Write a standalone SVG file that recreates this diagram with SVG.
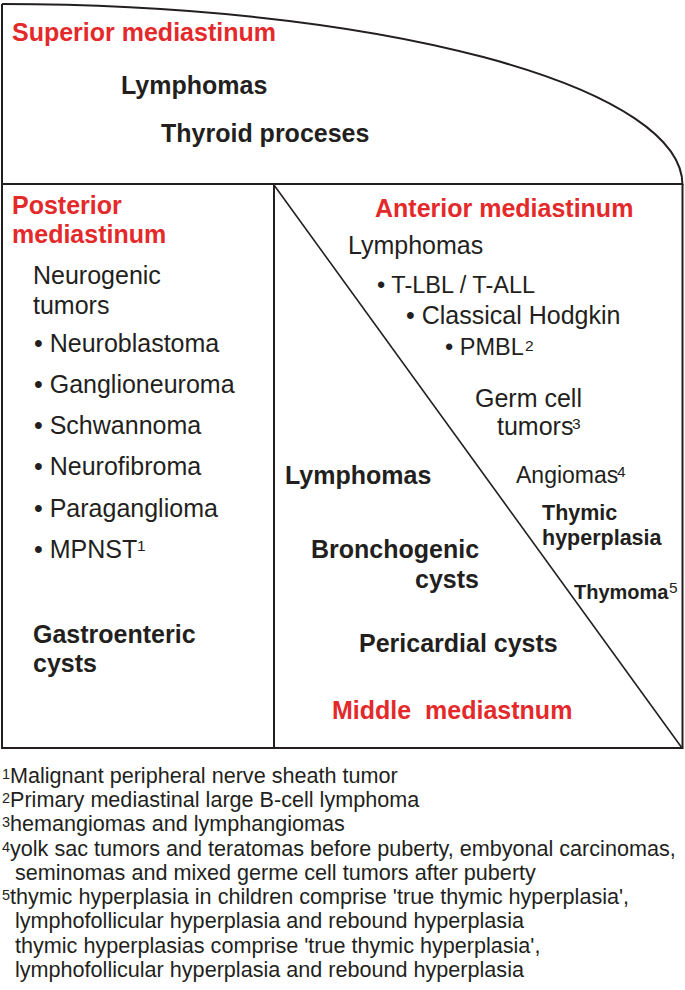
<svg xmlns="http://www.w3.org/2000/svg" width="685" height="990" viewBox="0 0 685 990">
<style>
.t{font-family:"Liberation Sans",Arial,Helvetica,sans-serif;fill:#231f20;font-size:25px}
.b{font-weight:bold}
.red{fill:#e4292b}
.sup{font-size:15.5px}
.fn{font-size:21.6px}
.fs{font-size:14.5px}
.ln{fill:none;stroke:#231f20;stroke-width:2}
.thin{fill:none;stroke:#231f20;stroke-width:1.6}
</style>
<rect width="685" height="990" fill="#fff"/>
<g id="connectors">
<path class="ln" d="M2,4 A681,181 0 0 1 682.5,185"/>
<path class="ln" d="M2,4 V748 H682.5 V184 M2,184 H682.5"/>
<path class="ln" d="M274,184 V748"/>
<path class="thin" d="M274,185 L682,748"/>
</g>
<g id="superior">
<text class="t b red" x="12" y="41">Superior mediastinum</text>
<text class="t b" x="121" y="94">Lymphomas</text>
<text class="t b" x="161" y="142">Thyroid proceses</text>
</g>
<g id="posterior">
<text class="t b red" x="12" y="214">Posterior</text>
<text class="t b red" x="12" y="243">mediastinum</text>
<text class="t" x="33" y="284">Neurogenic</text>
<text class="t" x="33" y="314">tumors</text>
<text class="t" x="34" y="352">• Neuroblastoma</text>
<text class="t" x="34" y="393">• Ganglioneuroma</text>
<text class="t" x="34" y="434">• Schwannoma</text>
<text class="t" x="34" y="475">• Neurofibroma</text>
<text class="t" x="34" y="517">• Paraganglioma</text>
<text class="t" x="34" y="558">• MPNST</text>
<text class="t sup" x="137" y="551">1</text>
<text class="t b" x="33" y="643">Gastroenteric</text>
<text class="t b" x="33" y="672">cysts</text>
</g>
<g id="anterior">
<text class="t b red" x="375" y="217">Anterior mediastinum</text>
<text class="t" x="348" y="254">Lymphomas</text>
<text class="t" x="377" y="293" style="font-size:23.5px">• T-LBL / T-ALL</text>
<text class="t" x="406" y="324">• Classical Hodgkin</text>
<text class="t" x="445" y="355" style="font-size:23.5px">• PMBL</text>
<text class="t sup" x="525" y="351">2</text>
<text class="t" x="475" y="407">Germ cell</text>
<text class="t" x="497" y="435">tumors</text>
<text class="t sup" x="572" y="429">3</text>
<text class="t" x="516" y="483" style="font-size:23px">Angiomas</text>
<text class="t sup" x="617" y="477">4</text>
<text class="t b" x="542" y="520" style="font-size:21.5px">Thymic</text>
<text class="t b" x="542" y="545" style="font-size:21.5px">hyperplasia</text>
<text class="t b" x="574" y="599" style="font-size:20px">Thymoma</text>
<text class="t sup" x="669" y="593">5</text>
</g>
<g id="middle">
<text class="t b" x="285" y="484">Lymphomas</text>
<text class="t b" x="311" y="558">Bronchogenic</text>
<text class="t b" x="479" y="588" text-anchor="end">cysts</text>
<text class="t b" x="359" y="652">Pericardial cysts</text>
<text class="t b red" x="332" y="719" word-spacing="7">Middle mediastnum</text>
</g>
<g id="footnotes">
<text class="t fs" x="2" y="779">1</text>
<text class="t fn" x="10" y="783">Malignant peripheral nerve sheath tumor</text>
<text class="t fs" x="2" y="803">2</text>
<text class="t fn" x="10" y="807">Primary mediastinal large B-cell lymphoma</text>
<text class="t fs" x="2" y="827">3</text>
<text class="t fn" x="10" y="831">hemangiomas and lymphangiomas</text>
<text class="t fs" x="2" y="852">4</text>
<text class="t fn" x="10" y="856">yolk sac tumors and teratomas before puberty, embyonal carcinomas,</text>
<text class="t fn" x="15" y="880">seminomas and mixed germe cell tumors after puberty</text>
<text class="t fs" x="2" y="900">5</text>
<text class="t fn" x="10" y="904">thymic hyperplasia in children comprise 'true thymic hyperplasia',</text>
<text class="t fn" x="15" y="928">lymphofollicular hyperplasia and rebound hyperplasia</text>
<text class="t fn" x="15" y="953">thymic hyperplasias comprise 'true thymic hyperplasia',</text>
<text class="t fn" x="15" y="977">lymphofollicular hyperplasia and rebound hyperplasia</text>
</g>
</svg>
